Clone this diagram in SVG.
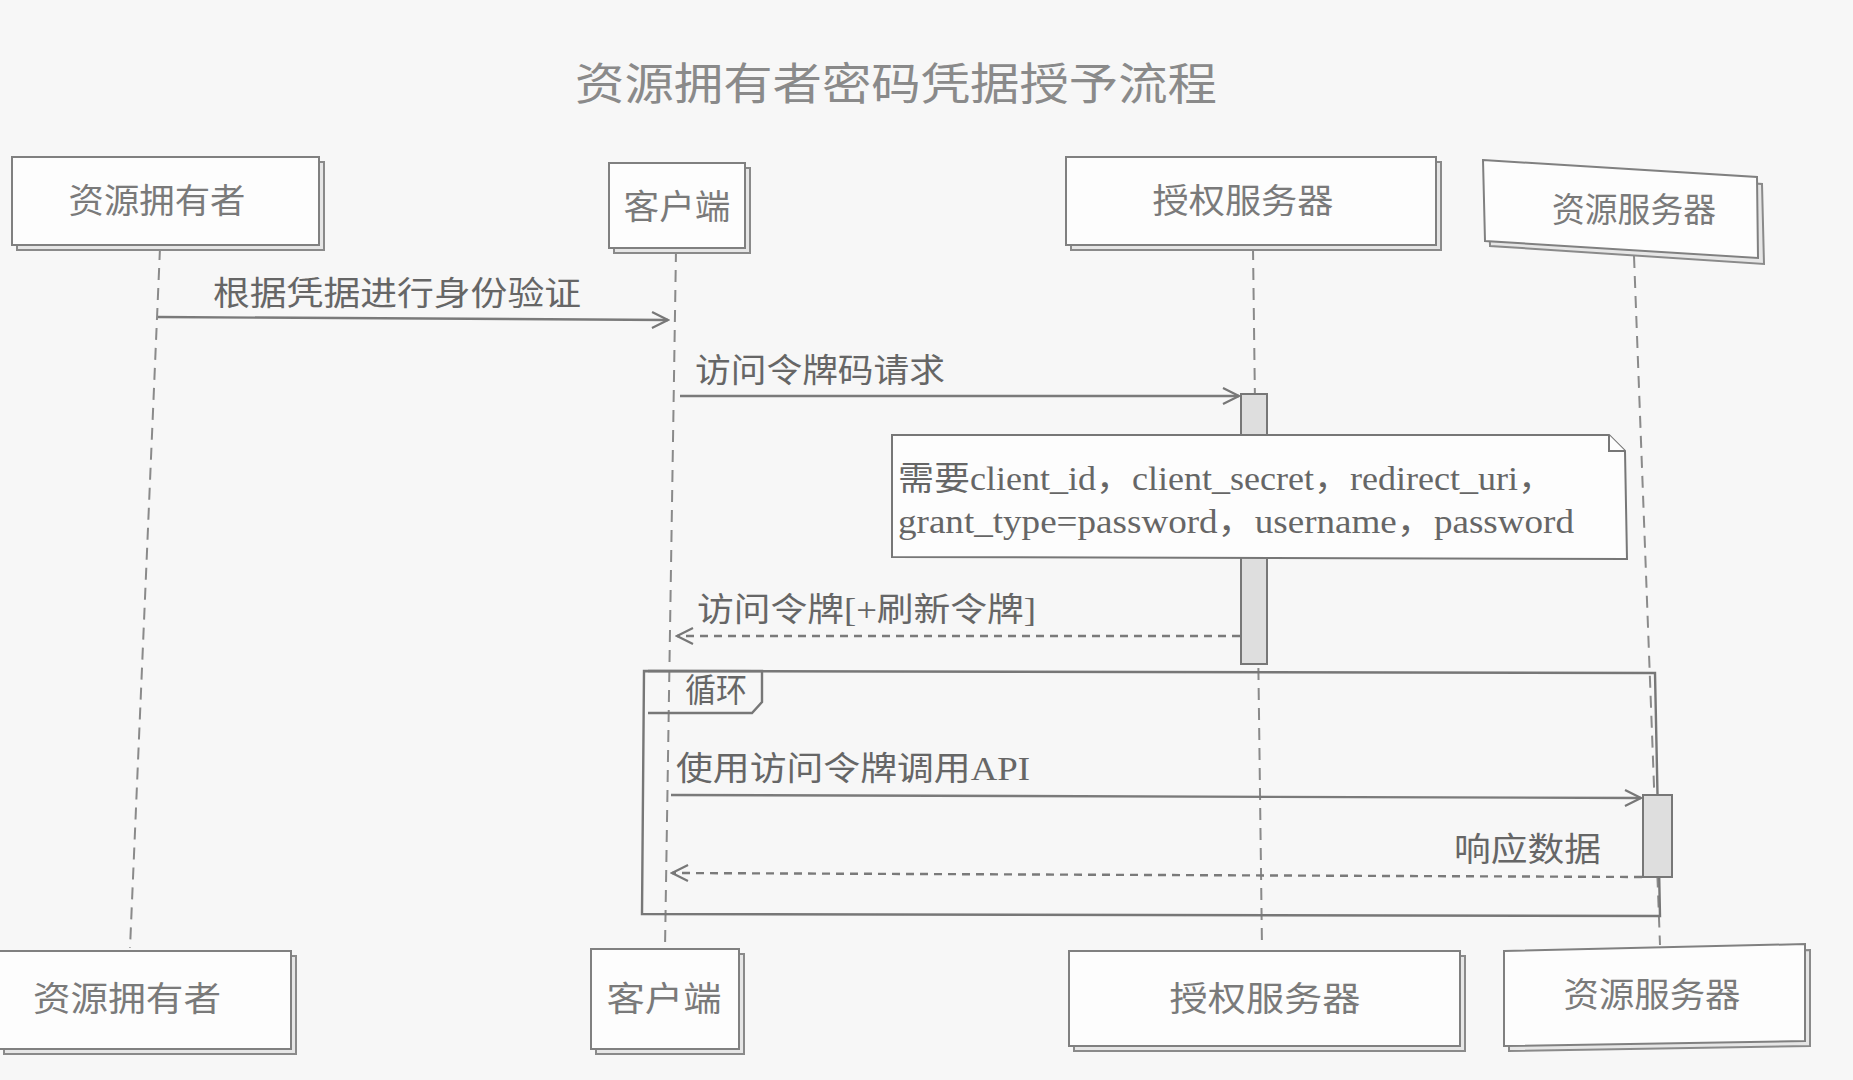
<svg xmlns="http://www.w3.org/2000/svg" width="1853" height="1080" viewBox="0 0 1853 1080">
<defs>
<marker id="open" viewBox="0 0 20 20" refX="18" refY="10" markerWidth="20" markerHeight="20" markerUnits="userSpaceOnUse" orient="auto">
<path d="M2,2 L18,10 L2,18" fill="none" stroke="#777" stroke-width="2.2"/>
</marker>
</defs>
<style>
.bg{fill:#f7f7f7}
.title{font-family:"Liberation Serif","Noto Sans CJK SC",serif;font-size:44px;fill:#8a8a8a}
.nodeT{font-family:"Liberation Serif","Noto Sans CJK SC",serif;font-size:34px;fill:#7a7a7a;text-anchor:middle}
.box{fill:#fdfdfd;stroke:#808080;stroke-width:2}
.shadow{fill:#e6e6e6;stroke:#8a8a8a;stroke-width:2}
.life{stroke:#8a8a8a;stroke-width:2;stroke-dasharray:12 8;fill:none}
.msg{stroke:#7a7a7a;stroke-width:2.4;fill:none}
.ret{stroke:#7a7a7a;stroke-width:2.4;fill:none;stroke-dasharray:8 6}
.lbl{font-family:"Liberation Serif","Noto Sans CJK SC",serif;font-size:33px;fill:#666}
.act{fill:#dedede;stroke:#777;stroke-width:2}
.note{fill:#fdfdfd;stroke:#777;stroke-width:2}
.frame{fill:none;stroke:#777;stroke-width:2.4}
</style>
<rect class="bg" x="0" y="0" width="1853" height="1080"/>
<text class="title" x="575" y="100" textLength="642" lengthAdjust="spacingAndGlyphs">资源拥有者密码凭据授予流程</text>

<g id="lifelines">
<line class="life" x1="160" y1="248" x2="130" y2="948"/>
<line class="life" x1="676" y1="250" x2="665" y2="948"/>
<line class="life" x1="1253" y1="248" x2="1262" y2="948"/>
<line class="life" x1="1634" y1="256" x2="1660" y2="945"/>
</g>

<g id="loop">
<path class="frame" d="M644,671 L1655,673 L1660,916 L642,914 Z"/>
<path class="frame" d="M648,671 L762,671 L762,702 L752,713 L648,713"/>
<text class="lbl" x="685" y="702" font-size="30" textLength="62" lengthAdjust="spacingAndGlyphs">循环</text>
</g>

<g id="activations">
<rect class="act" x="1241" y="394" width="26" height="270"/>
<rect class="act" x="1643" y="795" width="29" height="82"/>
</g>

<g id="connectors">
<line class="msg" x1="158" y1="317" x2="668" y2="320" marker-end="url(#open)"/>
<text class="lbl" x="213" y="305" textLength="368" lengthAdjust="spacingAndGlyphs">根据凭据进行身份验证</text>
<line class="msg" x1="680" y1="396" x2="1239" y2="396" marker-end="url(#open)"/>
<text class="lbl" x="695" y="382" textLength="250" lengthAdjust="spacingAndGlyphs">访问令牌码请求</text>
<line class="ret" x1="1240" y1="636" x2="677" y2="636" marker-end="url(#open)"/>
<text class="lbl" x="697" y="621" textLength="339" lengthAdjust="spacingAndGlyphs">访问令牌[+刷新令牌]</text>
<line class="msg" x1="671" y1="795" x2="1641" y2="798" marker-end="url(#open)"/>
<text class="lbl" x="676" y="780" textLength="354" lengthAdjust="spacingAndGlyphs">使用访问令牌调用API</text>
<line class="ret" x1="1642" y1="877" x2="672" y2="873" marker-end="url(#open)"/>
<text class="lbl" x="1454" y="861" textLength="147" lengthAdjust="spacingAndGlyphs">响应数据</text>
</g>

<g id="note">
<path class="note" d="M892,435 L1609,435 L1625,451 L1627,559 L892,557 Z"/>
<path class="note" d="M1609,435 L1609,451 L1625,451" fill="none"/>
<text class="lbl" x="898" y="490" font-size="31" textLength="656" lengthAdjust="spacingAndGlyphs">需要client_id，client_secret，redirect_uri，</text>
<text class="lbl" x="898" y="533" font-size="31" textLength="676" lengthAdjust="spacingAndGlyphs">grant_type=password，username，password</text>
</g>

<g id="top-owner">
<rect class="shadow" x="17" y="162" width="307" height="88"/>
<rect class="box" x="12" y="157" width="307" height="88"/>
<text class="nodeT" x="157" y="213" textLength="177" lengthAdjust="spacingAndGlyphs">资源拥有者</text>
</g>
<g id="top-client">
<rect class="shadow" x="614" y="168" width="136" height="85"/>
<rect class="box" x="609" y="163" width="136" height="85"/>
<text class="nodeT" x="677" y="219" textLength="107" lengthAdjust="spacingAndGlyphs">客户端</text>
</g>
<g id="top-auth">
<rect class="shadow" x="1071" y="162" width="370" height="88"/>
<rect class="box" x="1066" y="157" width="370" height="88"/>
<text class="nodeT" x="1243" y="213" textLength="181" lengthAdjust="spacingAndGlyphs">授权服务器</text>
</g>
<g id="top-resource">
<path class="shadow" d="M1488,166 L1762,184 L1764,264 L1490,246 Z"/>
<path class="box" d="M1483,160 L1757,177 L1758,258 L1485,241 Z"/>
<text class="nodeT" x="1634" y="222" textLength="164" lengthAdjust="spacingAndGlyphs">资源服务器</text>
</g>

<g id="bottom-owner">
<rect class="shadow" x="4" y="956" width="292" height="98"/>
<rect class="box" x="-1" y="951" width="292" height="98"/>
<text class="nodeT" x="127" y="1011" textLength="188" lengthAdjust="spacingAndGlyphs">资源拥有者</text>
</g>
<g id="bottom-client">
<rect class="shadow" x="596" y="954" width="148" height="100"/>
<rect class="box" x="591" y="949" width="148" height="100"/>
<text class="nodeT" x="664" y="1011" textLength="115" lengthAdjust="spacingAndGlyphs">客户端</text>
</g>
<g id="bottom-auth">
<rect class="shadow" x="1074" y="956" width="391" height="95"/>
<rect class="box" x="1069" y="951" width="391" height="95"/>
<text class="nodeT" x="1265" y="1011" textLength="191" lengthAdjust="spacingAndGlyphs">授权服务器</text>
</g>
<g id="bottom-resource">
<path class="shadow" d="M1509,956 L1810,950 L1810,1046 L1509,1051 Z"/>
<path class="box" d="M1504,951 L1805,944 L1805,1041 L1504,1046 Z"/>
<text class="nodeT" x="1652" y="1007" textLength="177" lengthAdjust="spacingAndGlyphs">资源服务器</text>
</g>
</svg>
